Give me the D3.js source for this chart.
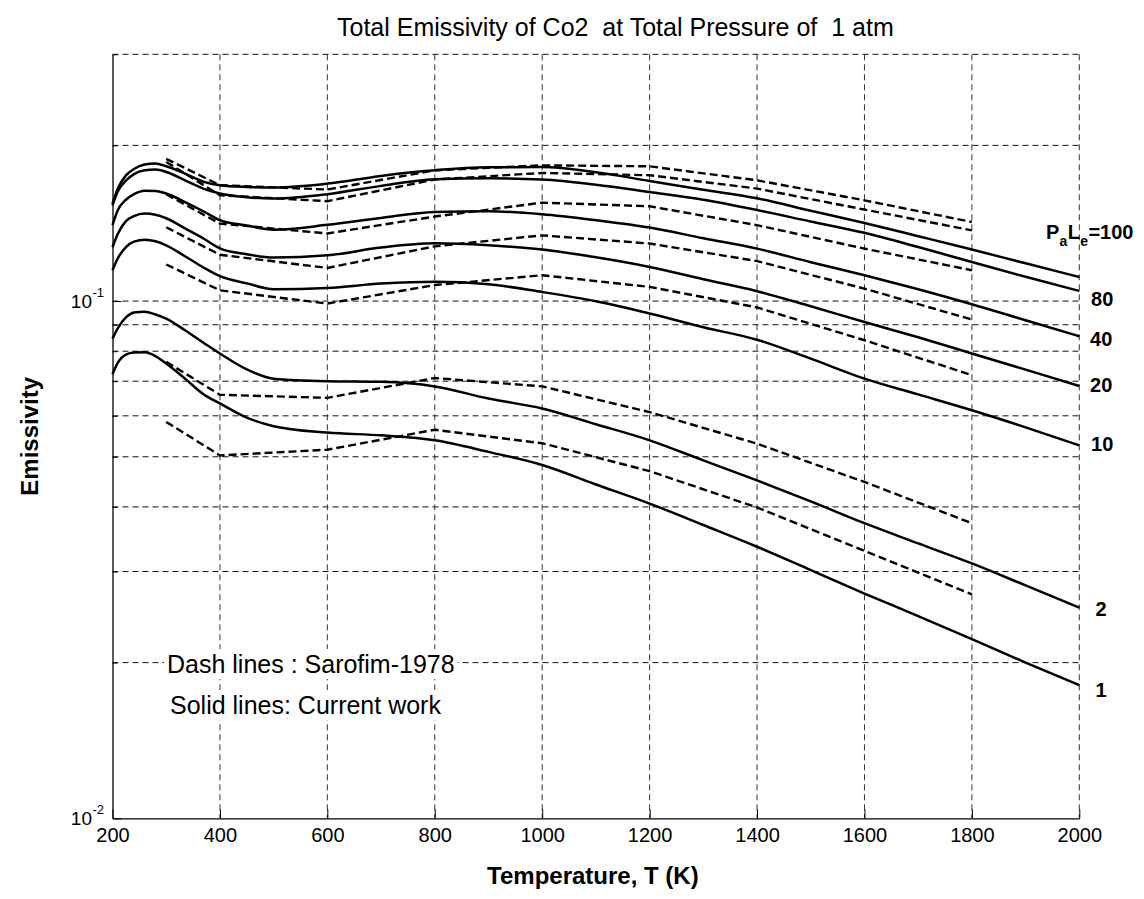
<!DOCTYPE html>
<html>
<head>
<meta charset="utf-8">
<script src="https://cdn.jsdelivr.net/npm/d3@7"></script>
<style>
  html, body { margin: 0; padding: 0; background: #fff; }
  svg { display: block; font-family: "Liberation Sans", Arial, sans-serif; }
</style>
</head>
<body>
<svg id="chart" width="1144" height="899"></svg>
<script>
// ---------------- DATA ----------------
const titleText = "Total Emissivity of Co2  at Total Pressure of  1 atm";
const xLabel = "Temperature, T (K)";
const yLabel = "Emissivity";
const xTickValues = [200, 400, 600, 800, 1000, 1200, 1400, 1600, 1800, 2000];
const yTickValues = [0.01, 0.1];
const yTickExponents = ["-2", "-1"];
const yMinorValues = [0.02, 0.03, 0.04, 0.05, 0.06, 0.07, 0.08, 0.09, 0.2, 0.3];
const yGridValues = [0.02, 0.03, 0.04, 0.05, 0.06, 0.07, 0.08, 0.09, 0.1, 0.2, 0.3];

// Current work (solid lines)
const solidT = [200, 210, 225, 240, 260, 280, 300, 335, 370, 400, 450, 500, 600, 700, 800, 900, 1000, 1100, 1200, 1300, 1400, 1500, 1600, 1700, 1800, 1900, 2000];
const solid100 = [0.1543, 0.165, 0.175, 0.180, 0.1836, 0.1845, 0.1822, 0.1764, 0.170, 0.1675, 0.1662, 0.1658, 0.1687, 0.1746, 0.179, 0.1814, 0.1816, 0.1774, 0.1707, 0.1641, 0.158, 0.1495, 0.1416, 0.1335, 0.1258, 0.1183, 0.1113];
const solid80 = [0.1531, 0.163, 0.171, 0.176, 0.179, 0.1796, 0.1777, 0.1712, 0.1648, 0.1614, 0.1588, 0.1578, 0.1609, 0.167, 0.172, 0.1728, 0.1718, 0.1679, 0.1625, 0.157, 0.150, 0.1425, 0.1355, 0.1272, 0.119, 0.1114, 0.1046];
const solid40 = [0.1402, 0.150, 0.157, 0.161, 0.1635, 0.1632, 0.1614, 0.1554, 0.149, 0.1433, 0.140, 0.1374, 0.1404, 0.1448, 0.1487, 0.1492, 0.1472, 0.1433, 0.1387, 0.1323, 0.1263, 0.1189, 0.1122, 0.1054, 0.0986, 0.0918, 0.0855];
const solid20 = [0.1271, 0.135, 0.1428, 0.146, 0.1476, 0.1468, 0.1446, 0.1382, 0.132, 0.1265, 0.1232, 0.1214, 0.1226, 0.1269, 0.1293, 0.1282, 0.1258, 0.1215, 0.1164, 0.1102, 0.1045, 0.0977, 0.0911, 0.0851, 0.0792, 0.0737, 0.0685];
const solid10 = [0.1147, 0.121, 0.1272, 0.1303, 0.1314, 0.1305, 0.1282, 0.1221, 0.116, 0.1117, 0.1082, 0.1054, 0.106, 0.1081, 0.109, 0.1078, 0.1041, 0.0999, 0.0946, 0.089, 0.0842, 0.0774, 0.0708, 0.066, 0.0615, 0.057, 0.0526];
const solid2 = [0.0846, 0.0887, 0.093, 0.095, 0.0954, 0.0942, 0.0925, 0.0878, 0.083, 0.0792, 0.0738, 0.0708, 0.070, 0.0698, 0.0684, 0.0648, 0.062, 0.0578, 0.0538, 0.0492, 0.045, 0.041, 0.0372, 0.034, 0.0311, 0.0282, 0.02555];
const solid1 = [0.0722, 0.076, 0.0788, 0.0795, 0.0796, 0.0783, 0.0757, 0.0708, 0.066, 0.0634, 0.0595, 0.0573, 0.0557, 0.055, 0.0538, 0.0511, 0.0482, 0.0442, 0.0406, 0.0369, 0.0335, 0.0302, 0.0272, 0.0246, 0.0222, 0.020, 0.0181];

// Sarofim-1978 (dashed lines)
const dashT = [300, 400, 600, 800, 1000, 1200, 1400, 1600, 1800];
const dash100 = [0.1884, 0.1675, 0.1643, 0.179, 0.183, 0.1822, 0.1712, 0.1566, 0.1422];
const dash80 = [0.1858, 0.1602, 0.156, 0.1718, 0.1769, 0.1751, 0.165, 0.1503, 0.137];
const dash40 = [0.1609, 0.1412, 0.1351, 0.1457, 0.155, 0.1525, 0.1402, 0.1263, 0.1147];
const dash20 = [0.1389, 0.1229, 0.1159, 0.1276, 0.134, 0.1292, 0.1195, 0.1057, 0.0921];
const dash10 = [0.1177, 0.1049, 0.0989, 0.1074, 0.1122, 0.1065, 0.0972, 0.084, 0.0719];
const dash2 = [0.0763, 0.0659, 0.065, 0.071, 0.0684, 0.061, 0.053, 0.0447, 0.0372];
const dash1 = [0.0584, 0.0503, 0.0516, 0.0564, 0.0531, 0.0469, 0.0399, 0.0329, 0.0271];

// curve labels (PaLe values) and where they sit
const curveLabels = ["80", "40", "20", "10", "2", "1"];
const curveLabelT = [2022, 2020, 2020, 2022, 2030, 2030];
const curveLabelV = [0.1008, 0.0844, 0.0688, 0.0529, 0.02536, 0.01769];
const topLabelT = 1938;
const topLabelV = 0.1361;

const legendLines = ["Dash lines : Sarofim-1978", "Solid lines: Current work"];

// ---------------- CHART ----------------
const svg = d3.select("#chart");
const pLeft = 112.5, pRight = 1079.3, pTop = 54.3, pBottom = 818.3;
const x = d3.scaleLinear().domain([200, 2000]).range([pLeft, pRight]);
const y = d3.scaleLog().domain([0.01, 0.3]).range([pBottom, pTop]);

const gridDash = "6,4";
// horizontal grid
svg.append("g").selectAll("line").data(yGridValues).join("line")
  .attr("x1", pLeft).attr("x2", pRight)
  .attr("y1", d => y(d)).attr("y2", d => y(d))
  .attr("stroke", "#111").attr("stroke-width", 1).attr("stroke-dasharray", gridDash);
// vertical grid
svg.append("g").selectAll("line").data(xTickValues.slice(1)).join("line")
  .attr("x1", d => x(d)).attr("x2", d => x(d))
  .attr("y1", pTop).attr("y2", pBottom)
  .attr("stroke", "#333").attr("stroke-width", 1).attr("stroke-dasharray", gridDash);

// legend text with white background
const legendG = svg.append("g");
const legendPos = [[167, 673], [170, 714]];
legendLines.forEach((t, i) => {
  const txt = legendG.append("text")
    .attr("x", legendPos[i][0]).attr("y", legendPos[i][1])
    .attr("font-size", 25).attr("fill", "#000").text(t);
  const bb = txt.node().getBBox();
  legendG.insert("rect", "text")
    .attr("x", bb.x - 3).attr("y", bb.y - 1)
    .attr("width", bb.width + 6).attr("height", bb.height + 2)
    .attr("fill", "#fff");
});

// axes
const xAxis = d3.axisBottom(x).tickValues(xTickValues).tickSize(-9).tickSizeOuter(0).tickPadding(9.5)
  .tickFormat(d3.format("d"));
const gx = svg.append("g").attr("transform", `translate(0,${pBottom})`).call(xAxis);
gx.selectAll("text").attr("font-size", 20).attr("fill", "#000").attr("font-family", "Liberation Sans, Arial, sans-serif");
gx.selectAll("line").attr("stroke", "#000");
gx.select(".domain").attr("stroke", "#000").attr("stroke-width", 1.3);

const yAxis = d3.axisLeft(y).tickValues(yTickValues).tickSize(-9).tickSizeOuter(0).tickFormat("");
const gy = svg.append("g").attr("transform", `translate(${pLeft},0)`).call(yAxis);
gy.selectAll("line").attr("stroke", "#000");
gy.select(".domain").attr("stroke", "#000").attr("stroke-width", 1.3);
const yMinor = d3.axisLeft(y).tickValues(yMinorValues).tickSize(-5).tickSizeOuter(0).tickFormat("");
const gym = svg.append("g").attr("transform", `translate(${pLeft},0)`).call(yMinor);
gym.selectAll("line").attr("stroke", "#000");
gym.select(".domain").remove();

// y tick labels 10^n
yTickValues.forEach((v, i) => {
  svg.append("text").attr("x", 92).attr("y", y(v) + 6.5)
    .attr("text-anchor", "end").attr("font-size", 19).text("10");
  svg.append("text").attr("x", 92.5).attr("y", y(v) - 4)
    .attr("text-anchor", "start").attr("font-size", 13).text(yTickExponents[i]);
});

// lines
const line = d3.line().x(d => x(d[0])).y(d => y(d[1]));
const solidSeries = [solid100, solid80, solid40, solid20, solid10, solid2, solid1];
const dashSeries = [dash100, dash80, dash40, dash20, dash10, dash2, dash1];

svg.append("g").selectAll("path").data(dashSeries).join("path")
  .attr("d", s => line.curve(d3.curveLinear)(dashT.map((t, i) => [t, s[i]])))
  .attr("fill", "none").attr("stroke", "#000").attr("stroke-width", 2.4)
  .attr("stroke-dasharray", "8,4");

svg.append("g").selectAll("path").data(solidSeries).join("path")
  .attr("d", s => line.curve(d3.curveMonotoneX)(solidT.map((t, i) => [t, s[i]])))
  .attr("fill", "none").attr("stroke", "#000").attr("stroke-width", 2.5)
  .attr("stroke-linejoin", "round");

// curve labels
svg.append("g").selectAll("text").data(curveLabels).join("text")
  .attr("x", (d, i) => x(curveLabelT[i]))
  .attr("y", (d, i) => y(curveLabelV[i]) + 7)
  .attr("font-size", 20).attr("font-weight", "bold").text(d => d);

const tlx = x(topLabelT), tly = y(topLabelV) + 7;
const tl = svg.append("g").attr("font-weight", "bold").attr("font-size", 20);
tl.append("text").attr("x", tlx).attr("y", tly).text("P");
tl.append("text").attr("x", tlx + 13.6).attr("y", tly + 7).attr("font-size", 14).text("a");
tl.append("text").attr("x", tlx + 21.8).attr("y", tly).text("L");
tl.append("text").attr("x", tlx + 34.2).attr("y", tly + 7).attr("font-size", 14).text("e");
tl.append("text").attr("x", tlx + 42.4).attr("y", tly).text("=100");

// title and axis labels
svg.append("text").attr("x", 337).attr("y", 36).attr("font-size", 25)
  .style("white-space", "pre").text(titleText);
svg.append("text").attr("x", (pLeft + pRight) / 2 - 3).attr("y", 884)
  .attr("text-anchor", "middle").attr("font-size", 24).attr("font-weight", "bold").text(xLabel);
svg.append("text").attr("transform", `translate(38,${(pTop + pBottom) / 2}) rotate(-90)`)
  .attr("text-anchor", "middle").attr("font-size", 24).attr("font-weight", "bold").text(yLabel);
</script>
</body>
</html>
